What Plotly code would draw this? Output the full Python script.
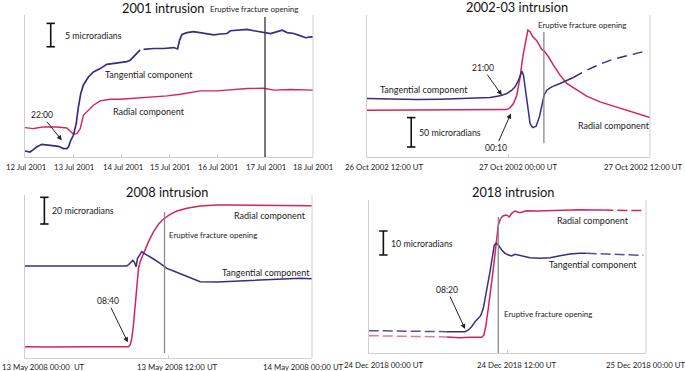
import pandas as pd
import plotly.graph_objects as go

# ---------------- DATA ----------------
# 2001 intrusion (hours since 12 Jul 2001 00:00, tilt in microradians)
t0_2001 = "2001-07-12 00:00"
tan_2001_h = [0, 2.5, 4.2, 5.8, 8.4, 10.9, 14.2, 16.7, 19.2, 20.9, 21.7, 22.9, 24.2, 25.6, 26.7,
              27.9, 29.2, 31.7, 34.2, 37.6, 40.9, 44.3, 47.6, 50.9, 52.6, 54.3, 55.9, 57.6, 58.4,
              59.3, 64.3, 69.3, 74.3, 76.3, 77.3, 78.5, 81.0, 84.3, 87.7, 91.0, 94.4, 97.7, 101.0,
              102.7, 106.0, 111.1, 114.4, 119.4, 122.8, 126.1, 128.6, 131.1, 134.4, 137.8, 140.3,
              142.8, 144.0]
tan_2001_urad = [1.29, 1.07, 1.57, 2.14, 2.71, 2.57, 2.43, 2.29, 1.79, 1.79, 2.14, 3.57, 4.64, 7.14,
                 10.7, 13.6, 15.4, 17.1, 18.2, 18.9, 19.8, 20.0, 20.1, 20.4, 20.7, 21.4, 22.1, 22.9,
                 None, 23.0, 23.2, 23.2, 23.4, 23.1, 25.0, 26.2, 26.6, 26.8, 26.6, 26.3, 26.1, 26.3,
                 26.4, 27.0, 27.1, 27.3, 27.0, 26.6, 26.4, 26.8, 27.1, 26.6, 26.4, 25.9, 25.5, 25.7,
                 25.7]
rad_2001_h = [0, 4.2, 5.8, 9.2, 15.9, 20.9, 22.5, 24.2, 25.9, 27.6, 29.2, 31.7, 34.2, 37.6, 42.6,
              47.6, 52.6, 57.6, 62.6, 71.0, 77.7, 82.7, 87.7, 96.0, 104.4, 111.1, 119.4, 124.4,
              132.8, 144.0]
rad_2001_urad = [6.29, 6.07, 6.21, 6.43, 6.43, 6.21, 5.57, 4.86, 5.0, 6.07, 8.93, 10.0, 11.07, 12.0,
                 12.36, 12.36, 12.5, 12.64, 12.86, 13.07, 13.43, 13.79, 14.14, 14.14, 14.43, 14.64,
                 14.71, 14.29, 14.43, 14.29]
ticks_2001 = ["2001-07-12", "2001-07-13", "2001-07-14", "2001-07-15", "2001-07-16", "2001-07-17",
              "2001-07-18"]
ticklabels_2001 = ["12 Jul 2001", "13 Jul 2001", "14 Jul 2001", "15 Jul 2001", "16 Jul 2001",
                   "17 Jul 2001", "18 Jul 2001"]
erupt_2001 = "2001-07-17 00:00"
scale_2001 = 5
onset_2001 = ("22:00", 18.4, 3.57)

# 2002-03 intrusion (hours since 26 Oct 2002 12:00)
t0_2002 = "2002-10-26 12:00"
tan_2002_h = [0, 1.98, 4.23, 6.21, 9.03, 10.45, 11.29, 11.86, 12.28, 12.56, 12.85, 13.13, 13.27,
              13.41, 13.61, 13.83, 14.06, 14.34, 14.62, 14.85, 15.02, 15.25, 15.67, 16.37, 17.22,
              17.50]
tan_2002_urad = [99.4, 98.3, 97.7, 98.3, 99.4, 101.1, 104.0, 108.0, 113.6, 119.3, 130.7, 146.0,
                 139.2, 119.3, 85.2, 56.8, 50.0, 52.3, 68.2, 90.9, 105.1, 113.6, 119.3, 125.0,
                 132.4, 135.2]
tan_2002_ext_h = [17.50, 18.63, 19.76, 20.89, 22.30, 23.72]
tan_2002_ext_urad = [135.2, 147.7, 158.0, 166.5, 173.3, 180.7]
rad_2002_h = [0, 3.39, 7.62, 11.29, 11.86, 12.14, 12.42, 12.70, 12.99, 13.21, 13.44, 13.64, 13.83,
              14.06, 14.40, 14.68, 14.82, 15.02, 15.39, 15.81, 16.37, 16.94, 17.79, 18.63, 19.76,
              20.89, 22.30, 24.0]
rad_2002_urad = [79.5, 79.5, 79.5, 79.5, 80.7, 84.1, 90.9, 105.1, 136.4, 170.5, 198.9, 215.9, 213.1,
                 204.5, 197.7, 187.5, 183.0, 180.7, 170.5, 156.3, 139.2, 125.0, 113.6, 103.4, 93.8,
                 86.4, 77.8, 67.0]
ticks_2002 = ["2002-10-26 12:00", "2002-10-27 00:00", "2002-10-27 12:00"]
ticklabels_2002 = ["26 Oct 2002 12:00 UT", "27 Oct 2002 00:00 UT", "27 Oct 2002 12:00 UT"]
erupt_2002 = "2002-10-27 03:00"
scale_2002 = 50
onset_2002_tan = ("21:00", 11.43, 105.1)
onset_2002_rad = ("00:10", 12.20, 73.9)

# 2008 intrusion (hours since 13 May 2008 00:00)
t0_2008 = "2008-05-13 00:00"
rad_2008_h = [0, 2.09, 4.88, 7.12, 8.65, 8.79, 8.93, 9.07, 9.21, 9.35, 9.49, 9.63, 9.77, 10.05,
              10.33, 10.75, 11.16, 11.58, 12.14, 12.70, 13.54, 14.65, 16.05, 17.44, 20.23, 24.0]
rad_2008_urad = [8.5, 8.25, 8.5, 8.25, 8.5, 9.75, 14.75, 24.75, 39.75, 54.75, 67.25, 72.25, 75.25,
                 81.0, 87.25, 94.75, 100.25, 104.25, 107.75, 110.25, 112.25, 114.0, 114.75, 114.75,
                 114.75, 114.25]
tan_2008_h = [0, 2.09, 4.88, 7.12, 8.51, 8.79, 9.01, 9.15, 9.29, 9.41, 9.63, 9.77, 9.96, 10.33,
              10.75, 11.30, 11.86, 12.42, 13.26, 14.09, 14.65, 16.05, 17.44, 18.84, 20.23, 21.63,
              23.03, 24.0]
tan_2008_urad = [69.0, 69.0, 68.75, 68.75, 69.0, 71.0, 73.25, 71.75, 68.5, 74.75, 78.5, 79.75, 78.5,
                 76.75, 74.25, 71.0, 67.25, 65.25, 62.25, 59.0, 57.25, 57.0, 57.5, 58.0, 58.5, 59.0,
                 59.75, 59.5]
ticks_2008 = ["2008-05-13 00:00", "2008-05-13 12:00", "2008-05-14 00:00"]
ticklabels_2008 = ["13 May 2008 00:00  UT", "13 May 2008 12:00 UT", "14 May 2008 00:00 UT"]
erupt_2008 = "2008-05-13 11:40"
scale_2008 = 20
onset_2008 = ("08:40", 8.60, 11.75)

# 2018 intrusion (hours since 24 Dec 2018 00:00)
t0_2018 = "2018-12-24 00:00"
tan_2018_pre_h = [0, 3.29, 6.75]
tan_2018_pre_urad = [9.31, 9.03, 8.89]
tan_2018_h = [6.75, 7.61, 8.34, 8.62, 8.91, 9.20, 9.49, 9.69, 9.92, 10.21, 10.50, 10.73, 10.87,
              11.02, 11.22, 11.51, 11.80, 12.09, 12.37, 12.66, 12.95, 13.38, 13.96, 14.83, 15.69,
              16.56, 17.42, 18.29, 18.86]
tan_2018_urad = [8.89, 8.89, 8.89, 9.58, 10.97, 13.06, 14.44, 15.56, 18.61, 25.56, 33.89, 40.83,
                 45.0, 45.69, 45.0, 42.92, 41.53, 40.83, 40.42, 41.11, 40.83, 40.14, 39.72, 39.44,
                 39.72, 40.56, 41.25, 41.53, 41.53]
tan_2018_post_h = [18.86, 20.59, 22.32, 23.77]
tan_2018_post_urad = [41.53, 41.25, 40.97, 40.69]
rad_2018_pre_h = [0, 3.29, 6.75]
rad_2018_pre_urad = [7.22, 6.94, 6.67]
rad_2018_h = [6.75, 7.90, 8.77, 9.35, 9.78, 9.98, 10.15, 10.35, 10.56, 10.79, 11.02, 11.22, 11.42,
              11.65, 11.94, 12.17, 12.37, 12.66, 13.09, 13.67, 14.54, 15.40, 16.27, 17.13, 18.29,
              19.44, 20.31]
rad_2018_urad = [6.67, 6.39, 6.53, 6.39, 6.53, 7.5, 11.67, 18.61, 25.56, 35.28, 45.0, 53.33, 56.11,
                 57.22, 57.5, 56.67, 58.19, 59.17, 58.47, 59.31, 59.17, 59.31, 59.17, 59.58, 59.72,
                 59.58, 59.58]
rad_2018_post_h = [20.31, 22.04, 23.91]
rad_2018_post_urad = [59.58, 59.44, 59.31]
ticks_2018 = ["2018-12-24 00:00", "2018-12-24 12:00", "2018-12-25 00:00"]
ticklabels_2018 = ["24 Dec 2018 00:00 UT", "24 Dec 2018 12:00 UT", "25 Dec 2018 00:00 UT"]
erupt_2018 = "2018-12-24 11:13"
scale_2018 = 10
onset_2018 = ("08:20", 8.34, 10.0)

titles = ["2001 intrusion", "2002-03 intrusion", "2008 intrusion", "2018 intrusion"]

# ---------------- STYLE ----------------
TAN = "#3b2c82"
RAD = "#d4245c"
TAN_LIGHT = "#55528f"
RAD_LIGHT = "#e27a9a"
AXIS = "#cfcfcf"
TXT = "#1a1a1a"
FONT = "Lato"
TICK_SIZE = 7.8
LABEL_SIZE = 9
EFO_SIZE = 7.9
SCALE_SIZE = 8.8
TITLE_SIZE = 12.8


def tt(t0, hours):
    base = pd.Timestamp(t0)
    return [base + pd.Timedelta(hours=h) for h in hours]


fig = go.Figure()


def line(t0, h, y, color, ax, dash="solid", width=1.5):
    fig.add_trace(go.Scatter(x=tt(t0, h), y=y, mode="lines", xaxis=ax[0], yaxis=ax[1],
                             line=dict(color=color, width=width, dash=dash),
                             connectgaps=False, hoverinfo="skip"))


A1, A2, A3, A4 = ("x", "y"), ("x2", "y2"), ("x3", "y3"), ("x4", "y4")

line(t0_2001, rad_2001_h, rad_2001_urad, RAD, A1, width=1.4)
line(t0_2001, tan_2001_h, tan_2001_urad, TAN, A1, width=1.7)

line(t0_2002, rad_2002_h, rad_2002_urad, RAD, A2)
line(t0_2002, tan_2002_h, tan_2002_urad, TAN, A2)
line(t0_2002, tan_2002_ext_h, tan_2002_ext_urad, TAN, A2, dash="10px,6px")

line(t0_2008, rad_2008_h, rad_2008_urad, RAD, A3)
line(t0_2008, tan_2008_h, tan_2008_urad, TAN, A3)

line(t0_2018, rad_2018_pre_h, rad_2018_pre_urad, RAD_LIGHT, A4, dash="10px,4px")
line(t0_2018, tan_2018_pre_h, tan_2018_pre_urad, TAN_LIGHT, A4, dash="10px,4px")
line(t0_2018, rad_2018_h, rad_2018_urad, RAD, A4)
line(t0_2018, tan_2018_h, tan_2018_urad, TAN, A4)
line(t0_2018, rad_2018_post_h, rad_2018_post_urad, RAD, A4, dash="10px,4px")
line(t0_2018, tan_2018_post_h, tan_2018_post_urad, TAN_LIGHT, A4, dash="10px,4px")

# scale bars (value from data, anchor position as style)
scale_bars = [
    (A1, t0_2001, scale_2001, 12.86, 23.57, 12, "5 microradians"),
    (A2, t0_2002, scale_2002, 3.75, 17.0, 6, "50 microradians"),
    (A3, t0_2008, scale_2008, 1.62, 100.5, 6, "20 microradians"),
    (A4, t0_2018, scale_2018, 1.27, 40.83, 6, "10 microradians"),
]
annotations = []
for ax, t0, val, bh, by0, tshift, label in scale_bars:
    bx = tt(t0, [bh, bh])
    fig.add_trace(go.Scatter(x=bx, y=[by0, by0 + val], mode="lines+markers",
                             xaxis=ax[0], yaxis=ax[1], hoverinfo="skip",
                             line=dict(color="#111111", width=1.6),
                             marker=dict(symbol="line-ew", size=6,
                                         line=dict(color="#111111", width=1.6))))
    annotations.append(dict(x=bx[0], y=by0 + val / 2, xref=ax[0], yref=ax[1], text=label,
                            showarrow=False, xanchor="left", xshift=tshift,
                            font=dict(size=SCALE_SIZE, color=TXT, family=FONT)))

# layout of the 4 panels
doms = {
    1: ([25 / 685, 313 / 685], [1 - 157 / 371, 1 - 15 / 371]),
    2: ([367 / 685, 650 / 685], [1 - 157 / 371, 1 - 15 / 371]),
    3: ([25 / 685, 312 / 685], [1 - 358 / 371, 1 - 195 / 371]),
    4: ([368.7 / 685, 646 / 685], [1 - 353 / 371, 1 - 200 / 371]),
}
xranges = {
    1: [pd.Timestamp("2001-07-12 00:00"), pd.Timestamp("2001-07-18 00:00")],
    2: [pd.Timestamp("2002-10-26 12:00"), pd.Timestamp("2002-10-27 12:00")],
    3: [pd.Timestamp("2008-05-13 00:00"), pd.Timestamp("2008-05-14 00:00")],
    4: [pd.Timestamp("2018-12-24 00:00"), pd.Timestamp("2018-12-25 00:00")],
}
yranges = {1: [0, 30.36], 2: [0, 241.5], 3: [0, 122.25], 4: [0, 63.75]}
tickv = {1: ticks_2001, 2: ticks_2002, 3: ticks_2008, 4: ticks_2018}
tickt = {1: ticklabels_2001, 2: ticklabels_2002, 3: ticklabels_2008, 4: ticklabels_2018}
tick_xshift = {1: [1, 1, 2, 1, 1, 1, 0], 2: [17, 10, -7], 3: [18, 9, -9], 4: [15, 10, 0]}
tick_yshift = {1: -10, 2: -10, 3: -9, 4: -12}
erupts = {1: erupt_2001, 2: erupt_2002, 3: erupt_2008, 4: erupt_2018}
erupt_span = {1: (0, 0.986), 2: (0.099, 0.880), 3: (0.031, 0.896), 4: (0, 0.889)}
erupt_color = {1: "#333333", 2: "#8a8a8a", 3: "#8a8a8a", 4: "#8a8a8a"}
title_pos = {1: (0.479, 1.05), 2: (0.53, 1.056), 3: (0.495, 1.018), 4: (0.52, 1.052)}

layout = dict(width=685, height=371, margin=dict(l=0, r=0, t=0, b=0),
              paper_bgcolor="white", plot_bgcolor="white", showlegend=False,
              font=dict(family=FONT, color=TXT))
shapes = []
for i in range(1, 5):
    sx = "" if i == 1 else str(i)
    layout["xaxis" + sx] = dict(domain=doms[i][0], range=xranges[i], type="date",
                                anchor="y" + sx, showgrid=False, zeroline=False,
                                showline=True, linecolor=AXIS, linewidth=1,
                                tickvals=tickv[i], ticks="inside", ticklen=3,
                                tickcolor=AXIS, showticklabels=False, fixedrange=True)
    layout["yaxis" + sx] = dict(domain=doms[i][1], range=yranges[i], anchor="x" + sx,
                                showgrid=False, zeroline=False, showline=True,
                                linecolor=AXIS, linewidth=1, showticklabels=False,
                                ticks="", fixedrange=True)
    # right border of plot area
    shapes.append(dict(type="line", xref="x" + sx + " domain", yref="y" + sx + " domain",
                       x0=1, x1=1, y0=0, y1=1, line=dict(color=AXIS, width=1)))
    # eruptive fracture opening line
    e = pd.Timestamp(erupts[i])
    shapes.append(dict(type="line", xref="x" + sx, yref="y" + sx + " domain",
                       x0=e, x1=e, y0=erupt_span[i][0], y1=erupt_span[i][1],
                       line=dict(color=erupt_color[i], width=1.3)))
    # tick labels
    for v, t, dx in zip(tickv[i], tickt[i], tick_xshift[i]):
        annotations.append(dict(x=pd.Timestamp(v), y=0, xref="x" + sx,
                                yref="y" + sx + " domain", text=t, showarrow=False,
                                xshift=dx, yshift=tick_yshift[i], yanchor="middle",
                                font=dict(size=TICK_SIZE, color=TXT, family=FONT)))
    # titles
    annotations.append(dict(x=title_pos[i][0], y=title_pos[i][1], xref="x" + sx + " domain",
                            yref="y" + sx + " domain", text=titles[i - 1], showarrow=False,
                            yanchor="middle",
                            font=dict(size=TITLE_SIZE, color="#111111", family=FONT)))


def label(ax, t0, h, y, text, xanchor="center", xshift=0, size=LABEL_SIZE, yref=None):
    annotations.append(dict(x=tt(t0, [h])[0], y=y, xref=ax[0], yref=yref or ax[1], text=text,
                            showarrow=False, xanchor=xanchor, yanchor="middle", xshift=xshift,
                            font=dict(size=size, color=TXT, family=FONT)))


def onset(ax, t0, info, axp, ayp):
    text, h, y = info
    annotations.append(dict(x=tt(t0, [h])[0], y=y, xref=ax[0], yref=ax[1], text=text,
                            showarrow=True, arrowhead=2, arrowsize=1, arrowwidth=1,
                            arrowcolor="#222222", ax=axp, ay=ayp,
                            font=dict(size=8.6, color=TXT, family=FONT)))


# panel 1 texts
label(A1, t0_2001, 62, 17.57, "Tangential component")
label(A1, t0_2001, 62, 9.64, "Radial component")
label(A1, t0_2001, 114.5, 1 - 9 / 371, "Eruptive fracture opening", size=EFO_SIZE, yref="paper")
onset(A1, t0_2001, onset_2001, -20, -25)

# panel 2 texts
label(A2, t0_2002, 4.83, 115.6, "Tangential component")
label(A2, t0_2002, 20.95, 54.4, "Radial component")
label(A2, t0_2002, 18.24, 224.5, "Eruptive fracture opening", size=EFO_SIZE)
onset(A2, t0_2002, onset_2002_tan, -19, -27)
onset(A2, t0_2002, onset_2002_rad, -15, 34)

# panel 3 texts
label(A3, t0_2008, 20.49, 106.5, "Radial component")
label(A3, t0_2008, 11.67, 92.25, "Eruptive fracture opening", xanchor="left", xshift=2,
      size=EFO_SIZE)
label(A3, t0_2008, 20.15, 64.5, "Tangential component")
onset(A3, t0_2008, onset_2008, -20, -41)

# panel 4 texts
label(A4, t0_2018, 19.42, 55.4, "Radial component")
label(A4, t0_2018, 19.42, 36.7, "Tangential component")
label(A4, t0_2018, 11.22, 16.25, "Eruptive fracture opening", xanchor="left", xshift=4,
      size=EFO_SIZE)
onset(A4, t0_2018, onset_2018, -18, -39)

layout["shapes"] = shapes
layout["annotations"] = annotations
fig.update_layout(**layout)
fig.write_html("out.html", config={"displayModeBar": False, "staticPlot": True},
               post_script="document.body.style.margin='0';document.body.style.padding='0';")
